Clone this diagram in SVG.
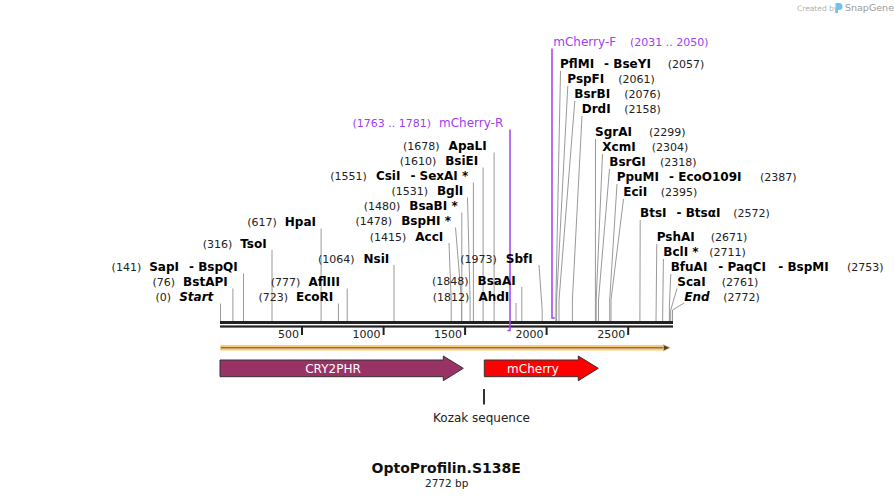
<svg xmlns="http://www.w3.org/2000/svg" width="894" height="500" viewBox="0 0 894 500">
<style>
text{font-family:"DejaVu Sans",Verdana,sans-serif}
.e{font-weight:bold;font-size:12px;fill:#000}
.i{font-style:italic}
.n{font-size:11px;fill:#222}
.p{fill:#a040f0}
.pn{font-size:12px}
.c{fill:none;stroke:#999;stroke-width:1}
.pr{fill:none;stroke:#a040f0;stroke-width:1.5}
.tk{stroke:#222;stroke-width:2}
.tl{font-size:11px;fill:#222;text-anchor:end}
.l{text-anchor:end}
.feat{stroke:#333;stroke-width:1}
.ft{font-size:12px;fill:#fff;text-anchor:middle}
</style>
<rect width="894" height="500" fill="#fff"/>

<g id="logo">
<text x="797" y="10.5" font-size="7.5" fill="#b0b0b0">Created by</text>
<path d="M835.5,3 h3.5 a3.5,3.5 0 0 1 0,7 h-1 v3 h-2.5 z" fill="#6cc4ee"/>
<text x="845" y="11" font-size="9.5" fill="#9a9a9a">SnapGene</text>
</g>

<g id="connectors">
<polyline class="c" points="560.5,71 555.9,300 555.9,321"/>
<polyline class="c" points="567.8,86 556.6,300 556.6,321"/>
<polyline class="c" points="574.8,101 559,300 559,321"/>
<polyline class="c" points="582,116 572.4,300 572.4,321"/>
<polyline class="c" points="595.5,139 595.4,300 595.4,321"/>
<polyline class="c" points="602.5,154 596.2,300 596.2,321"/>
<polyline class="c" points="609.5,169 598.5,300 598.5,321"/>
<polyline class="c" points="617,184 609.7,300 609.7,321"/>
<polyline class="c" points="623.5,199 611,300 611,321"/>
<polyline class="c" points="640.2,220 639.9,321"/>
<polyline class="c" points="656.8,244 656,321"/>
<polyline class="c" points="663.4,259 662.6,321"/>
<polyline class="c" points="670.8,274 669.4,305 669.4,321"/>
<polyline class="c" points="677,288.5 670.7,310 670.7,321"/>
<polyline class="c" points="684,303 672.5,310 672.5,321"/>
<polyline class="c" points="220.5,303.5 220.5,321"/>
<polyline class="c" points="232.9,288.5 232.9,321"/>
<polyline class="c" points="243.5,273.5 243.5,321"/>
<polyline class="c" points="272,250 272,321"/>
<polyline class="c" points="321.1,228.5 321.1,321"/>
<polyline class="c" points="347.2,288.5 347.2,321"/>
<polyline class="c" points="338.4,303.5 338.4,321"/>
<polyline class="c" points="394,265 394,321"/>
<polyline class="c" points="449,243 451.2,300 451.2,321"/>
<polyline class="c" points="455.5,227.5 461.5,300 461.5,321"/>
<polyline class="c" points="461.8,212.5 461.8,321"/>
<polyline class="c" points="467.5,197.5 470.1,300 470.1,321"/>
<polyline class="c" points="473.4,182.5 473.4,321"/>
<polyline class="c" points="483.1,167.5 483.1,321"/>
<polyline class="c" points="494.1,152.5 494.1,321"/>
<polyline class="c" points="539,265 542.2,310 542.2,321"/>
<polyline class="c" points="521.8,287 521.8,321"/>
<polyline class="c" points="516,303 516,321"/>
</g>

<g id="ruler">
<rect x="220" y="321" width="453" height="3" fill="#222"/>
<rect x="220" y="325.4" width="453" height="2.2" fill="#222"/>
<line class="tk" x1="302" y1="327" x2="302" y2="335"/>
<line class="tk" x1="383.6" y1="327" x2="383.6" y2="335"/>
<line class="tk" x1="465.1" y1="327" x2="465.1" y2="335"/>
<line class="tk" x1="546.6" y1="327" x2="546.6" y2="335"/>
<line class="tk" x1="628.2" y1="327" x2="628.2" y2="335"/>
<text class="tl" x="299" y="337.5">500</text>
<text class="tl" x="380.6" y="337.5">1000</text>
<text class="tl" x="462.1" y="337.5">1500</text>
<text class="tl" x="543.6" y="337.5">2000</text>
<text class="tl" x="625.2" y="337.5">2500</text>
</g>

<g id="primers">
<polyline class="pr" points="510,129.5 510,330.5 507.5,330.5"/>
<polyline class="pr" points="552,48.5 552,318 554.8,318"/>
</g>

<g id="labels-right">
<text x="553.3" y="46"><tspan class="p pn">mCherry-F</tspan><tspan class="n p" x="630">(2031 .. 2050)</tspan></text>
<text x="560" y="68"><tspan class="e">PflMI</tspan><tspan class="e" dx="10">- BseYI</tspan><tspan class="n" x="667.7">(2057)</tspan></text>
<text x="567.3" y="83.3"><tspan class="e">PspFI</tspan><tspan class="n" x="618.3">(2061)</tspan></text>
<text x="574.3" y="98"><tspan class="e">BsrBI</tspan><tspan class="n" x="624.3">(2076)</tspan></text>
<text x="581.7" y="112.7"><tspan class="e">DrdI</tspan><tspan class="n" x="624.3">(2158)</tspan></text>
<text x="595" y="136"><tspan class="e">SgrAI</tspan><tspan class="n" x="649">(2299)</tspan></text>
<text x="602.3" y="151"><tspan class="e">XcmI</tspan><tspan class="n" x="651.7">(2304)</tspan></text>
<text x="609.3" y="166"><tspan class="e">BsrGI</tspan><tspan class="n" x="660">(2318)</tspan></text>
<text x="616.7" y="181"><tspan class="e">PpuMI</tspan><tspan class="e" dx="10">- EcoO109I</tspan><tspan class="n" x="760">(2387)</tspan></text>
<text x="623.3" y="196"><tspan class="e">EciI</tspan><tspan class="n" x="660.7">(2395)</tspan></text>
<text x="640" y="217"><tspan class="e">BtsI</tspan><tspan class="e" dx="10">- BtsαI</tspan><tspan class="n" x="733.3">(2572)</tspan></text>
<text x="656.7" y="241"><tspan class="e">PshAI</tspan><tspan class="n" x="710.7">(2671)</tspan></text>
<text x="663.3" y="256"><tspan class="e">BclI *</tspan><tspan class="n" x="709.3">(2711)</tspan></text>
<text x="670.7" y="271"><tspan class="e">BfuAI</tspan><tspan class="e" x="718.3">- PaqCI</tspan><tspan class="e" x="778.3">- BspMI</tspan><tspan class="n" x="847">(2753)</tspan></text>
<text x="677.3" y="286"><tspan class="e">ScaI</tspan><tspan class="n" x="721.7">(2761)</tspan></text>
<text x="684.3" y="301"><tspan class="e i">End</tspan><tspan class="n" x="723.3">(2772)</tspan></text>
</g>

<g id="labels-left">
<text class="l" x="503.3" y="127.3"><tspan class="n p">(1763 .. 1781)</tspan><tspan class="p pn" dx="8">mCherry-R</tspan></text>
<text class="l" x="486.7" y="150"><tspan class="n">(1678)</tspan><tspan class="e" dx="9">ApaLI</tspan></text>
<text class="l" x="478.3" y="165"><tspan class="n">(1610)</tspan><tspan class="e" dx="9">BsiEI</tspan></text>
<text class="l" x="468.3" y="180"><tspan class="n">(1551)</tspan><tspan class="e" dx="9">CsiI</tspan><tspan class="e" dx="10">- SexAI *</tspan></text>
<text class="l" x="463.3" y="195"><tspan class="n">(1531)</tspan><tspan class="e" dx="9">BglI</tspan></text>
<text class="l" x="457.7" y="210"><tspan class="n">(1480)</tspan><tspan class="e" dx="9">BsaBI *</tspan></text>
<text class="l" x="451" y="225"><tspan class="n">(1478)</tspan><tspan class="e" dx="9">BspHI *</tspan></text>
<text class="l" x="443.3" y="240.7"><tspan class="n">(1415)</tspan><tspan class="e" dx="9">AccI</tspan></text>
<text class="l" x="389.3" y="262.7"><tspan class="n">(1064)</tspan><tspan class="e" dx="9">NsiI</tspan></text>
<text class="l" x="532.7" y="262.7"><tspan class="n">(1973)</tspan><tspan class="e" dx="9">SbfI</tspan></text>
<text class="l" x="515.7" y="284.5"><tspan class="n">(1848)</tspan><tspan class="e" dx="9">BsaAI</tspan></text>
<text class="l" x="509.3" y="300.7"><tspan class="n">(1812)</tspan><tspan class="e" dx="9">AhdI</tspan></text>
<text class="l" x="316" y="226"><tspan class="n">(617)</tspan><tspan class="e" dx="8">HpaI</tspan></text>
<text class="l" x="266.7" y="247.7"><tspan class="n">(316)</tspan><tspan class="e" dx="8">TsoI</tspan></text>
<text class="l" x="237.7" y="271"><tspan class="n">(141)</tspan><tspan class="e" dx="8">SapI</tspan><tspan class="e" dx="10">- BspQI</tspan></text>
<text class="l" x="227.7" y="286"><tspan class="n">(76)</tspan><tspan class="e" dx="8">BstAPI</tspan></text>
<text class="l" x="213.3" y="301"><tspan class="n">(0)</tspan><tspan class="e i" dx="8">Start</tspan></text>
<text class="l" x="340" y="286"><tspan class="n">(777)</tspan><tspan class="e" dx="8">AflIII</tspan></text>
<text class="l" x="333.3" y="301"><tspan class="n">(723)</tspan><tspan class="e" dx="8">EcoRI</tspan></text>
</g>

<g id="orf">
<rect x="220" y="345" width="446" height="5.6" rx="1.5" fill="#F9C97C"/>
<line x1="221" y1="347.8" x2="665" y2="347.8" stroke="#5a4a35" stroke-width="1"/>
<polygon points="663.3,344.6 670.3,347.8 663.3,351" fill="#444" stroke="#F9C97C" stroke-width="0.8"/>
</g>

<g id="CRY2PHR">
<polygon class="feat" fill="#993366" points="220,360 443.3,360 443.3,356 463.3,368.3 443.3,380.7 443.3,376.7 220,376.7"/>
<text class="ft" x="333" y="372.5">CRY2PHR</text>
</g>

<g id="mCherry">
<polygon class="feat" fill="#ff0000" points="484.3,360 578.3,360 578.3,356 598.3,368.3 578.3,380.7 578.3,376.7 484.3,376.7"/>
<text class="ft" x="533" y="372.5">mCherry</text>
</g>

<g id="kozak">
<line x1="484" y1="389" x2="484" y2="404.5" stroke="#333" stroke-width="2"/>
<text x="481.5" y="421.7" font-size="12" fill="#222" text-anchor="middle">Kozak sequence</text>
</g>

<g id="title">
<text x="446.2" y="473.3" font-size="14" font-weight="bold" fill="#111" text-anchor="middle">OptoProfilin.S138E</text>
<text x="446.7" y="486.7" font-size="10.5" fill="#222" text-anchor="middle">2772 bp</text>
</g>
</svg>
